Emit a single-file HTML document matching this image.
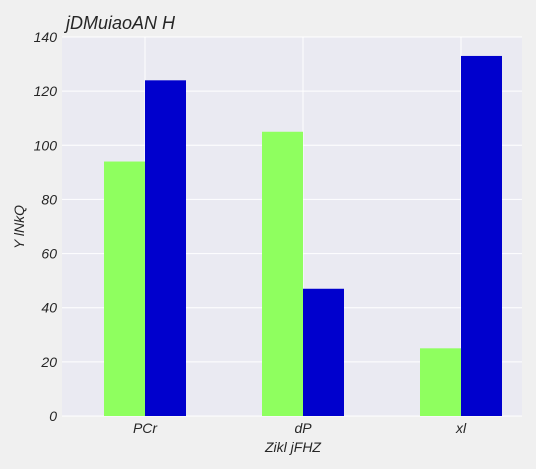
<!DOCTYPE html>
<html><head><meta charset="utf-8"><style>
body{margin:0;background:#f0f0f0;}
svg{display:block;font-family:"Liberation Sans",sans-serif;font-style:italic;}
</style></head><body>
<svg width="536" height="469">
<rect x="0" y="0" width="536" height="469" fill="#f0f0f0"/>
<rect x="62" y="37" width="460" height="379" fill="#eaeaf2"/>
<g id="grid"></g><g id="bars"></g><g id="labels"></g>
<text x="66" y="29" font-size="18" fill="#262626">jDMuiaoAN H</text>
<text x="293" y="452" font-size="14" text-anchor="middle" fill="#262626">Zikl jFHZ</text>
<text transform="translate(24,227) rotate(-90)" font-size="14" text-anchor="middle" fill="#262626">Y  lNkQ</text>
<script>
const categories=["PCr","dP","xl"];
const seriesA=[94,105,25];
const seriesB=[124,47,133];
const yTicks=[0,20,40,60,80,100,120,140];
const NS="http://www.w3.org/2000/svg";
const x0=62,x1=522,y0=416,y1=37,yMax=140;
const band=158,xStart=66;
function xC(i){return xStart+band*(i+0.5);}
function yS(v){return y0-(v/yMax)*(y0-y1);}
function mk(t,a,p){const e=document.createElementNS(NS,t);for(const k in a)e.setAttribute(k,a[k]);p.appendChild(e);return e;}
const g=document.getElementById('grid'),b=document.getElementById('bars'),l=document.getElementById('labels');
yTicks.forEach(v=>{
 const ln=mk('line',{x1:x0,x2:x1,y1:yS(v),y2:yS(v),stroke:'#fff','stroke-width':1},g);
 
 
 const t=mk('text',{x:57,y:yS(v)+5,'font-size':14,'text-anchor':'end',fill:'#262626'},l);
 t.textContent=v;
 
 
});
const bw=41;
categories.forEach((c,i)=>{
 const ln=mk('line',{x1:xC(i),x2:xC(i),y1:y1,y2:y0,stroke:'#fff','stroke-width':1},g);
 
 
 const ra=mk('rect',{x:xC(i)-bw,y:yS(seriesA[i]),width:bw,height:y0-yS(seriesA[i]),fill:'#8fff5f'},b);
 
 
 const rb=mk('rect',{x:xC(i),y:yS(seriesB[i]),width:bw,height:y0-yS(seriesB[i]),fill:'#0000cd'},b);
 
 
 const t=mk('text',{x:xC(i),y:433,'font-size':14,'text-anchor':'middle',fill:'#262626'},l);
 t.textContent=c;
 
 
});
</script>
</svg>
</body></html>
